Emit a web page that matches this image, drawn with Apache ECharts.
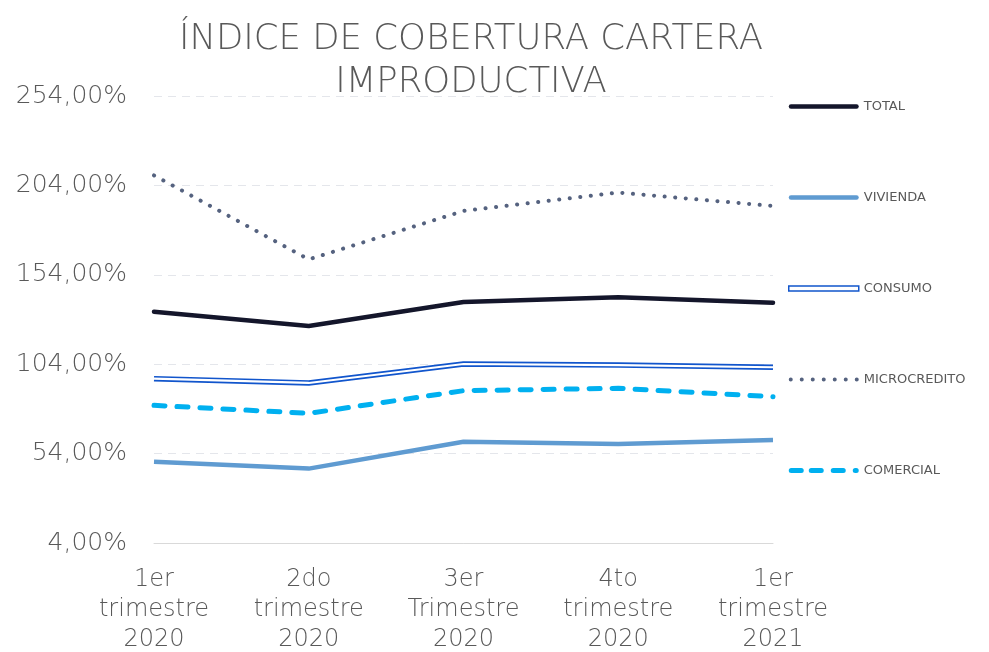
<!DOCTYPE html>
<html>
<head>
<meta charset="utf-8">
<script src="https://cdn.jsdelivr.net/npm/echarts@6/dist/echarts.min.js"></script>
<style>
  html, body { margin: 0; padding: 0; background: #fff; }
  #chart { width: 989px; height: 652px; }
</style>
</head>
<body>
<div id="chart"></div>
<script>
// categorias (trimestres)
const trimestres = [
    '1er\ntrimestre\n2020',
    '2do\ntrimestre\n2020',
    '3er\nTrimestre\n2020',
    '4to\ntrimestre\n2020',
    '1er\ntrimestre\n2021'
];

// valores en %
const total = [133.3, 125.4, 138.8, 141.4, 138.4];
const vivienda = [49.5, 45.6, 60.6, 59.4, 61.6];
const consumo = [95.9, 93.5, 104.1, 103.5, 102.3];
const microcredito = [209.6, 162.6, 189.7, 200.0, 192.5];
const comercial = [81.0, 76.5, 89.2, 90.5, 85.8];

const FONT = 'DejaVu Sans';
const GRIS = '#595959';

// iconos de leyenda (línea gruesa, puntos, guiones)
const iconLinea = 'path://M2.25,0 h65.5 a2.25,2.25 0 0,1 0,4.5 h-65.5 a2.25,2.25 0 0,1 0,-4.5 Z';
const iconDoble = 'path://M0,0 L70,0 L70,5 L0,5 Z';
let puntos = '';
for (let i = 0; i < 7; i++) {
    const cx = 2 + i * 11;
    puntos += `M${cx - 2},2 a2,2 0 1,0 4,0 a2,2 0 1,0 -4,0 Z `;
}
const iconPuntos = 'path://' + puntos;
const guion = (x, w) => `M${x + 2.5},0 h${w - 5} a2.5,2.5 0 0,1 0,5 h${-(w - 5)} a2.5,2.5 0 0,1 0,-5 Z `;
const iconGuiones = 'path://' + guion(0, 15) + guion(20, 15) + guion(42, 15) + guion(64, 6);

const chart = echarts.init(document.getElementById('chart'));

const fmt = (v) => v.toFixed(2).replace('.', ',') + '%';

chart.setOption({
    animation: false,
    backgroundColor: '#fff',
    title: {
        text: 'ÍNDICE DE COBERTURA CARTERA\nIMPRODUCTIVA',
        left: 466,
        textAlign: 'center',
        top: 13,
        textStyle: {
            fontFamily: FONT,
            fontWeight: 200,
            fontSize: 35.5,
            color: GRIS,
            lineHeight: 43
        }
    },
    legend: {
        orient: 'vertical',
        left: 788,
        top: 100,
        padding: 0,
        itemWidth: 70,
        itemHeight: 14,
        itemGap: 78,
        textStyle: { fontFamily: FONT, fontSize: 13, color: GRIS },
        data: [
            { name: 'TOTAL', icon: iconLinea },
            { name: 'VIVIENDA', icon: iconLinea },
            {
                name: 'CONSUMO',
                icon: iconDoble,
                itemStyle: { color: '#fff', borderColor: '#1155cc', borderWidth: 1.5 }
            },
            { name: 'MICROCREDITO', icon: iconPuntos },
            { name: 'COMERCIAL', icon: iconGuiones }
        ]
    },
    grid: { left: 154, right: 216, top: 96, bottom: 109, outerBoundsMode: 'none', containLabel: false },
    xAxis: {
        type: 'category',
        data: trimestres,
        boundaryGap: false,
        axisTick: { show: false },
        axisLine: { lineStyle: { color: '#d9d9d9', width: 1 } },
        axisLabel: {
            fontFamily: FONT,
            fontWeight: 200,
            fontSize: 24,
            color: GRIS,
            lineHeight: 30,
            margin: 22
        }
    },
    yAxis: {
        type: 'value',
        min: 4,
        max: 254,
        interval: 50,
        axisLine: { show: false },
        axisTick: { show: false },
        splitLine: { lineStyle: { color: '#e4e6eb', type: [8, 6], width: 1 } },
        axisLabel: {
            fontFamily: FONT,
            fontWeight: 200,
            fontSize: 25,
            color: GRIS,
            margin: 27,
            formatter: fmt
        }
    },
    series: [
        {
            name: 'TOTAL', type: 'line', data: total, symbol: 'none', z: 5,
            lineStyle: { color: '#14162b', width: 4.5, cap: 'round' },
            itemStyle: { color: '#14162b' }
        },
        {
            name: 'VIVIENDA', type: 'line', data: vivienda, symbol: 'none',
            lineStyle: { color: '#5f9bd1', width: 4.5 },
            itemStyle: { color: '#5f9bd1' }
        },
        {
            name: 'CONSUMO', type: 'line', data: consumo, symbol: 'none',
            lineStyle: { color: '#1155cc', width: 5.5 },
            itemStyle: { color: '#1155cc' }
        },
        {
            // linea interior blanca para el efecto de doble linea
            name: 'consumo_inner', type: 'line', data: consumo, symbol: 'none',
            silent: true,
            lineStyle: { color: '#ffffff', width: 2.2 }
        },
        {
            name: 'MICROCREDITO', type: 'line', data: microcredito, symbol: 'none',
            lineStyle: { color: '#55627f', width: 4, type: [0.1, 10.5], cap: 'round' },
            itemStyle: { color: '#55627f' }
        },
        {
            name: 'COMERCIAL', type: 'line', data: comercial, symbol: 'none',
            lineStyle: { color: '#00b0f0', width: 5, type: [11, 12], cap: 'round' },
            itemStyle: { color: '#00b0f0' }
        }
    ]
});

window.addEventListener('resize', () => chart.resize());
</script>
</body>
</html>
